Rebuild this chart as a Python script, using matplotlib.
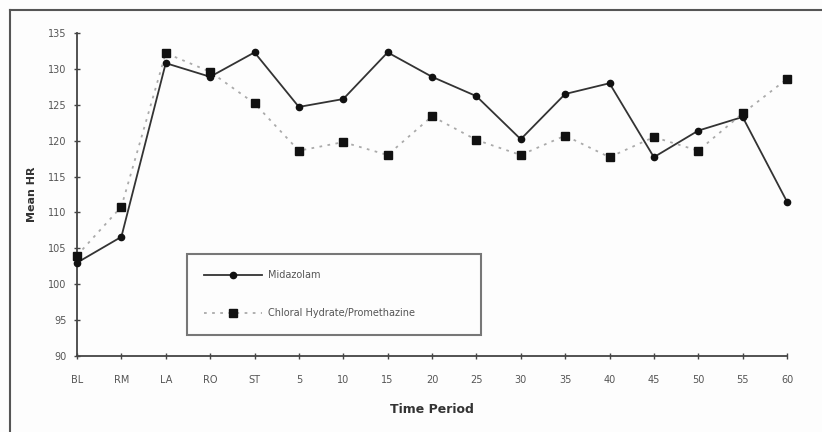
import numpy as np
import matplotlib.pyplot as plt
from matplotlib.lines import Line2D

# Time periods and mean heart rate per group
periods = ['BL', 'RM', 'LA', 'RO', 'ST', '5', '10', '15', '20', '25',
           '30', '35', '40', '45', '50', '55', '60']
midazolam = [103.0, 106.6, 130.8, 128.9, 132.3, 124.7, 125.8, 132.3, 128.9,
             126.2, 120.2, 126.5, 128.0, 117.7, 121.4, 123.3, 111.5]
chloral = [104.0, 110.8, 132.2, 129.6, 125.2, 118.6, 119.8, 118.0, 123.4,
           120.1, 118.0, 120.7, 117.7, 120.5, 118.6, 123.8, 128.6]
yticks = [90, 95, 100, 105, 110, 115, 120, 125, 130, 135]

W, H = 822, 432
fig = plt.figure(figsize=(W / 100, H / 100), dpi=100)
fig.patch.set_facecolor('#fdfdfd')

# outer frame (only top and left edges visible in the original crop)
fig.add_artist(Line2D([10 / W, 10 / W], [0, 1 - 10 / H], color='#555555', lw=1.5))
fig.add_artist(Line2D([10 / W, 1], [1 - 10 / H, 1 - 10 / H], color='#555555', lw=1.5))

ax = fig.add_axes([77 / W, 76 / H, 710 / W, 323 / H])
ax.set_facecolor('#fdfdfd')
x = np.arange(len(periods))

ax.plot(x, midazolam, color='#333333', lw=1.3, marker='o', ms=4.5,
        mfc='#111111', mec='#111111', clip_on=False, zorder=3,
        label='Midazolam')
ax.plot(x, chloral, color='#aaaaaa', lw=1.3, ls=(0, (1.5, 3)), marker='s', ms=6,
        mfc='#111111', mec='#111111', clip_on=False, zorder=4,
        label='Chloral Hydrate/Promethazine')

ax.set_xlim(0, len(periods) - 1)
ax.set_ylim(90, 135)
ax.set_xticks(x)
ax.set_xticklabels(periods)
ax.set_yticks(yticks)

for s in ['top', 'right']:
    ax.spines[s].set_visible(False)
for s in ['left', 'bottom']:
    ax.spines[s].set_color('#444444')
    ax.spines[s].set_linewidth(1.3)

ax.tick_params(axis='both', direction='inout', length=5, width=1,
               color='#444444', labelsize=7, labelcolor='#555555')
ax.tick_params(axis='x', pad=11)
ax.tick_params(axis='y', pad=5)

ax.set_xlabel('Time Period', fontsize=9, fontweight='bold', color='#333333', labelpad=13)
ax.set_ylabel('Mean HR', fontsize=8, fontweight='bold', color='#333333', labelpad=8)

leg = ax.legend(loc='lower left', bbox_to_anchor=((187 - 77) / 710, (356 - 335) / 323,
                                                    294 / 710, 80 / 323),
                mode='expand', borderaxespad=0, fontsize=7, frameon=True,
                fancybox=False, borderpad=1.7, labelspacing=2.9, handlelength=6.0,
                handletextpad=0.6, labelcolor='#555555')
leg.get_frame().set_edgecolor('#555555')
leg.get_frame().set_linewidth(1.5)
leg.get_frame().set_facecolor('#fdfdfd')

fig.savefig('out.png', dpi=100, facecolor=fig.get_facecolor())
